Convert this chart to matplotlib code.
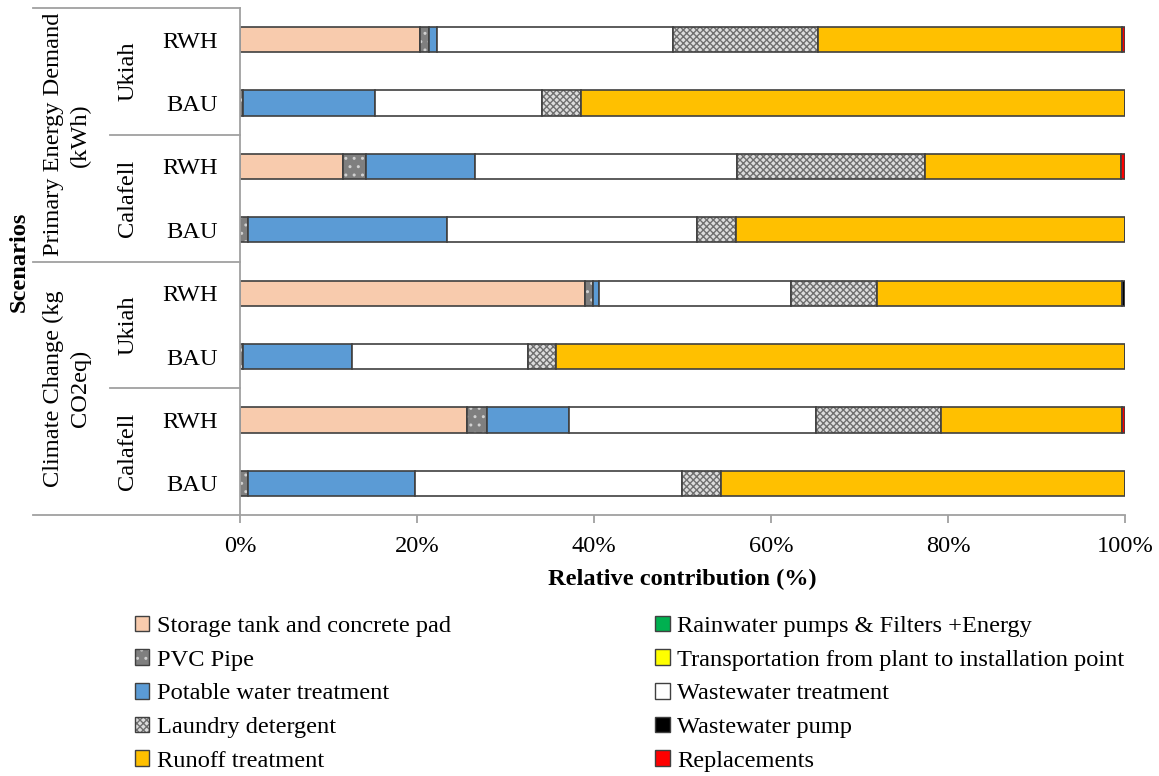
import numpy as np
import matplotlib
matplotlib.use('Agg')
import matplotlib.pyplot as plt
from matplotlib.patches import Patch

# rows from top to bottom
scenarios = ['RWH', 'BAU', 'RWH', 'BAU', 'RWH', 'BAU', 'RWH', 'BAU']
cities = ['Ukiah', 'Calafell', 'Ukiah', 'Calafell']
indicators = ['Primary Energy Demand\n(kWh)', 'Climate Change (kg\nCO2eq)']

# relative contribution (%) per component
storage     = [20.3, 0.0, 11.6, 0.0, 39.0, 0.0, 25.6, 0.0]
rain_pumps  = [0.0, 0.0, 0.0, 0.0, 0.0, 0.0, 0.0, 0.0]
pvc         = [1.1, 0.3, 2.6, 0.9, 0.9, 0.3, 2.3, 0.9]
transport   = [0.0, 0.0, 0.0, 0.0, 0.0, 0.0, 0.0, 0.0]
potable     = [0.9, 15.0, 12.4, 22.5, 0.7, 12.4, 9.3, 18.9]
wastewater  = [26.6, 18.8, 29.6, 28.2, 21.7, 19.8, 27.9, 30.1]
laundry     = [16.4, 4.4, 21.2, 4.5, 9.7, 3.2, 14.1, 4.5]
runoff      = [34.4, 61.5, 22.2, 43.9, 27.7, 64.3, 20.5, 45.6]
ww_pump     = [0.0, 0.0, 0.0, 0.0, 0.3, 0.0, 0.0, 0.0]
replacement = [0.3, 0.0, 0.4, 0.0, 0.0, 0.0, 0.3, 0.0]

plt.rcParams['font.family'] = ['Liberation Serif', 'DejaVu Serif']
plt.rcParams['hatch.linewidth'] = 1.0
fontsize = 17.6
edge = '#404040'
gray_line = '#a0a0a0'

# name, values, face colour, hatch, hatch colour
series = [
    ('Storage tank and concrete pad', storage, '#F8CBAD', None, None),
    ('Rainwater pumps & Filters +Energy', rain_pumps, '#00B050', None, None),
    ('PVC Pipe', pvc, '#7F7F7F', '..', '#d0d0d0'),
    ('Transportation from plant to installation point', transport, '#FFFF00', None, None),
    ('Potable water treatment', potable, '#5B9BD5', None, None),
    ('Wastewater treatment', wastewater, 'white', None, None),
    ('Laundry detergent', laundry, '#DDDDDD', 'xxxxx', '#707070'),
    ('Runoff treatment', runoff, '#FFC000', None, None),
    ('Wastewater pump', ww_pump, 'black', None, None),
    ('Replacements', replacement, '#FF0000', None, None),
]

fig = plt.figure(figsize=(11.59, 7.76), dpi=100)
ax = fig.add_axes([240/1159, 1-515/776, 885/1159, 507/776])

y = np.arange(len(scenarios))
left = np.zeros(len(scenarios))
handles = {}
for name, vals, fc, hatch, hc in series:
    vals = np.array(vals)
    if hatch:
        ax.barh(y, vals, left=left, height=0.4, color=fc, hatch=hatch,
                edgecolor=hc, linewidth=0)
        ax.barh(y, vals, left=left, height=0.4, fill=False,
                edgecolor=edge, linewidth=1.2)
        h = (Patch(facecolor=fc, hatch=hatch, edgecolor=hc, linewidth=0),
             Patch(fill=False, edgecolor=edge, linewidth=1.0))
    else:
        ax.barh(y, vals, left=left, height=0.4, color=fc,
                edgecolor=edge, linewidth=1.2)
        h = Patch(facecolor=fc, edgecolor=edge, linewidth=1.0)
    handles[name] = h
    left = left + vals

ax.set_xlim(0, 100)
ax.set_ylim(7.5, -0.5)
for s in ax.spines.values():
    s.set_visible(False)

ax.set_xticks([0, 20, 40, 60, 80, 100])
ax.set_xticklabels(['0%', '20%', '40%', '60%', '80%', '100%'], fontsize=fontsize)
ax.tick_params(axis='x', direction='out', length=6, color=gray_line, width=1.3, pad=9)
ax.set_yticks(y)
ax.set_yticklabels(scenarios, fontsize=fontsize)
ax.tick_params(axis='y', length=0, pad=16)
ax.set_xlabel('Relative contribution (%)', fontsize=fontsize, fontweight='bold', labelpad=9)

# custom axis frame and multi-level category lines
tr = ax.get_yaxis_transform()
x_outer = (33 - 240) / 885
x_city = (110 - 240) / 885
ax.plot([0, 0], [-0.5, 7.5], color=gray_line, lw=1.3, transform=tr, clip_on=False)
ax.plot([x_outer, 1], [7.5, 7.5], color=gray_line, lw=1.3, transform=tr, clip_on=False)
ax.plot([x_outer, 0], [-0.5, -0.5], color=gray_line, lw=1.3, transform=tr, clip_on=False)
ax.plot([x_outer, 0], [3.5, 3.5], color=gray_line, lw=1.3, transform=tr, clip_on=False)
for yy in [1.5, 5.5]:
    ax.plot([x_city, 0], [yy, yy], color=gray_line, lw=1.3, transform=tr, clip_on=False)

for i, c in enumerate(cities):
    ax.text((128 - 240) / 885, 2*i + 0.5, c, rotation=90, ha='center', va='center',
            fontsize=fontsize, transform=tr)
for i, ind in enumerate(indicators):
    ax.text((67 - 240) / 885, 4*i + 1.5, ind, rotation=90, ha='center', va='center',
            fontsize=fontsize, transform=tr, multialignment='center', linespacing=1.35)
ax.text((19 - 240) / 885, 3.5, 'Scenarios', rotation=90, ha='center', va='center',
        fontsize=fontsize, fontweight='bold', transform=tr)

# legend: two columns
order = ['Storage tank and concrete pad', 'PVC Pipe', 'Potable water treatment',
         'Laundry detergent', 'Runoff treatment',
         'Rainwater pumps & Filters +Energy',
         'Transportation from plant to installation point',
         'Wastewater treatment', 'Wastewater pump', 'Replacements']
fig.legend([handles[n] for n in order], order, ncol=2, loc='upper left',
           bbox_to_anchor=(125/1159, 1-606/776), frameon=False, fontsize=fontsize,
           handlelength=0.6, handleheight=0.6, handletextpad=0.3,
           columnspacing=8.35, labelspacing=0.5, borderaxespad=0)

plt.savefig('out.png', dpi=100)
